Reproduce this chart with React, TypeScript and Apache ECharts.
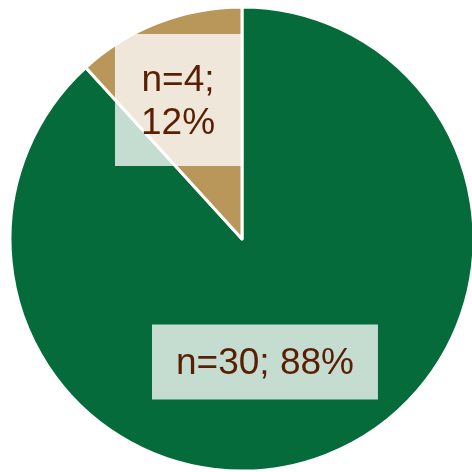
import React, { useEffect, useRef } from "react";
import * as echarts from "echarts";

const categories = ["Group A", "Group B"];
const counts = [30, 4];
const sliceColors = ["#066b3a", "#b9975b"];

export default function App() {
  const ref = useRef<HTMLDivElement>(null);
  useEffect(() => {
    if (!ref.current) return;
    const chart = echarts.init(ref.current, undefined, { renderer: "svg" });
    const baseLabel = {
      show: true,
      position: "inside",
      color: "#5a1e02",
      fontFamily: "Liberation Sans, Arial, sans-serif",
      fontSize: 37,
      lineHeight: 43,
      backgroundColor: "rgba(255,255,255,0.77)",
    };
    const labelSpecs = [
      { formatter: "n={c}; {d}%", padding: [13, 24, 19, 24], offset: [-20, 12] },
      { formatter: "n={c};\n{d}%", padding: [13, 26, 33, 26], offset: [-21, -28] },
    ];
    chart.setOption({
      animation: false,
      series: [
        {
          type: "pie",
          center: [242, 239],
          radius: 232,
          startAngle: 90,
          clockwise: true,
          percentPrecision: 0,
          labelLine: { show: false },
          itemStyle: { borderColor: "#ffffff", borderWidth: 3 },
          emphasis: { disabled: true },
          data: categories.map((name, i) => ({
            name,
            value: counts[i],
            itemStyle: { color: sliceColors[i] },
            label: { ...baseLabel, ...labelSpecs[i] },
          })),
        },
      ],
    });
    return () => chart.dispose();
  }, []);
  return (
    <div
      ref={ref}
      style={{ position: "fixed", left: 0, top: 0, width: 472, height: 472 }}
    />
  );
}
